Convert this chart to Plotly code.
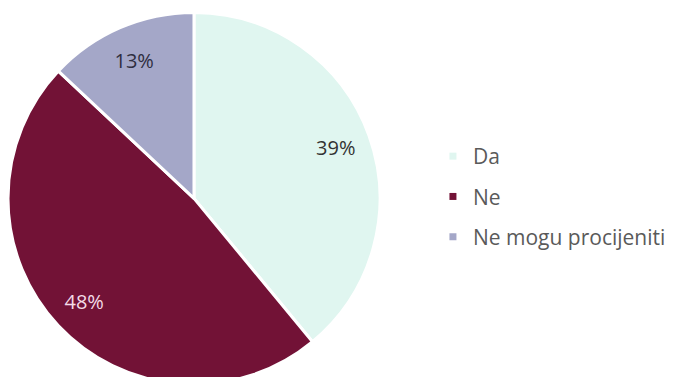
import plotly.graph_objects as go

categories = ["Da", "Ne", "Ne mogu procijeniti"]
values = [39, 48, 13]
colors = ["#e0f6f0", "#721236", "#a4a7c8"]
text_colors = ["#333333", "#f4dbe7", "#2e2e40"]

dom = dict(x=[0.0, 0.5462], y=[0.0, 0.99])

fig = go.Figure()
# slices
fig.add_trace(go.Pie(
    labels=categories, values=values, sort=False, direction="clockwise",
    rotation=0, marker=dict(colors=colors, line=dict(color="white", width=3)),
    textinfo="none", domain=dom, showlegend=False,
    hoverinfo="label+percent",
))
# percentage labels placed in an outer ring
fig.add_trace(go.Pie(
    labels=categories, values=values, sort=False, direction="clockwise",
    rotation=0, hole=0.62,
    marker=dict(colors=["rgba(0,0,0,0)"] * len(values), line=dict(width=0)),
    textinfo="percent", texttemplate="%{percent:.0%}", textposition="inside",
    insidetextorientation="horizontal",
    insidetextfont=dict(family="Open Sans", size=20, color=text_colors),
    domain=dom, showlegend=False, hoverinfo="skip",
))
for c, col in zip(categories, colors):
    fig.add_trace(go.Scatter(
        x=[None], y=[None], mode="markers", name=c, legendgroup=c,
        marker=dict(symbol="square", size=7, color=col),
        showlegend=True, hoverinfo="skip",
    ))

fig.update_layout(
    width=681, height=377, margin=dict(l=0, r=0, t=0, b=0),
    paper_bgcolor="white", plot_bgcolor="white",
    xaxis=dict(visible=False), yaxis=dict(visible=False),
    legend=dict(x=0.624, y=0.5, xanchor="left", yanchor="middle",
                font=dict(family="Open Sans", size=21, color="#5a5a5a"),
                tracegroupgap=10, bgcolor="rgba(0,0,0,0)"),
)
fig.write_html("out.html")
